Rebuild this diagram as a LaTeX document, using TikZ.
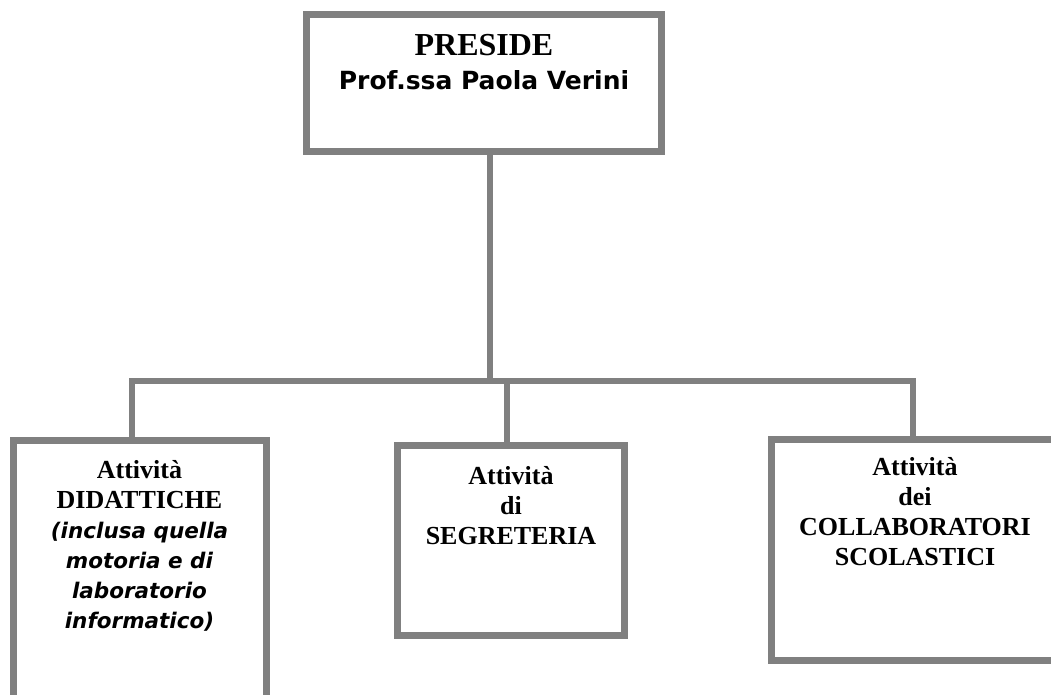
\documentclass[tikz,border=0pt]{standalone}
\usepackage{fontspec}
\setmainfont{Liberation Serif}
\newfontfamily\lourde{DejaVu Sans}
\usetikzlibrary{positioning}
\definecolor{cadre}{RGB}{128,128,128}
\newcommand{\obl}{\lourde\bfseries\itshape\fontsize{21.5}{29}\selectfont}

\begin{document}
\begin{tikzpicture}[x=1pt,y=-1pt,
    boite/.style={draw=cadre, line width=7pt, inner sep=0pt},
    texte/.style={inner sep=0pt, align=center, font=\bfseries\fontsize{26}{30}\selectfont},
    trait/.style={draw=cadre, line width=6pt, line join=miter}]
    \useasboundingbox (0,0) rectangle (1051,695);
    \clip (0,0) rectangle (1051,695);
    % cadres
    \node[boite, minimum width=355.5pt, minimum height=137pt] (preside) at (484,83.5) {};
    \node[boite, minimum width=253pt, minimum height=300pt] (didattiche) at (139.5,590) {};
    \node[boite, minimum width=226.5pt, minimum height=190pt] (segreteria) at (511,540) {};
    \node[boite, minimum width=288pt, minimum height=221pt] (collaboratori) at (915,549.5) {};
    % jonctions
    \coordinate (jh) at (490,381);
    \coordinate (jg) at (132,381);
    \coordinate (jm) at (507,381);
    \coordinate (jd) at (913,381);
    % traits
    \draw[trait] (jh |- preside.south) -- (jh);
    \draw[trait] (didattiche.north -| jg) -- (jg) -- (jd) -- (collaboratori.north -| jd);
    \draw[trait] (jm) -- (jm |- segreteria.north);
    % textes
    \node[texte, font=\bfseries\fontsize{32}{34}\selectfont, below=23pt of preside.north] (titre)
        {PRESIDE\\{\lourde\bfseries\fontsize{25}{34}\selectfont Prof.ssa Paola Verini}};
    \node[texte, below=24pt of didattiche.north] (t didattiche)
        {Attività\\DIDATTICHE\\{\obl (inclusa quella}\\{\obl motoria e di}\\{\obl laboratorio}\\{\obl informatico)}};
    \node[texte, below=25pt of segreteria.north] (t segreteria) {Attività\\di\\SEGRETERIA};
    \node[texte, below=22pt of collaboratori.north] (t collaboratori) {Attività\\dei\\COLLABORATORI\\SCOLASTICI};
\end{tikzpicture}
\end{document}
